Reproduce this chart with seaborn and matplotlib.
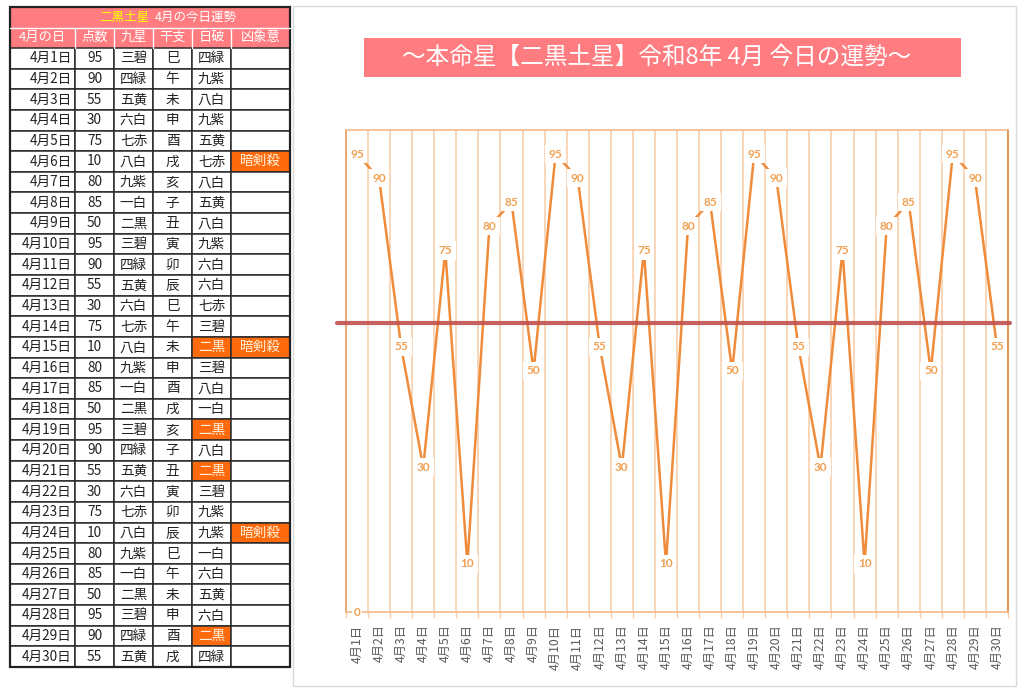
"""Monthly fortune chart: table of daily scores plus line chart."""
import numpy as np
import pandas as pd
import matplotlib.pyplot as plt
from matplotlib.patches import Rectangle
import seaborn as sns

# ---- data -----------------------------------------------------------------
days = [f"4月{d}日" for d in range(1, 31)]
scores = [95, 90, 55, 30, 75, 10, 80, 85, 50,
          95, 90, 55, 30, 75, 10, 80, 85, 50,
          95, 90, 55, 30, 75, 10, 80, 85, 50,
          95, 90, 55]
kyusei = ["三碧", "四緑", "五黄", "六白", "七赤", "八白", "九紫", "一白", "二黒",
          "三碧", "四緑", "五黄", "六白", "七赤", "八白", "九紫", "一白", "二黒",
          "三碧", "四緑", "五黄", "六白", "七赤", "八白", "九紫", "一白", "二黒",
          "三碧", "四緑", "五黄"]
eto = ["巳", "午", "未", "申", "酉", "戌", "亥", "子", "丑", "寅",
       "卯", "辰", "巳", "午", "未", "申", "酉", "戌", "亥", "子",
       "丑", "寅", "卯", "辰", "巳", "午", "未", "申", "酉", "戌"]
nippa = ["四緑", "九紫", "八白", "九紫", "五黄", "七赤", "八白", "五黄", "八白", "九紫",
         "六白", "六白", "七赤", "三碧", "二黒", "三碧", "八白", "一白", "二黒", "八白",
         "二黒", "三碧", "九紫", "九紫", "一白", "六白", "五黄", "六白", "二黒", "四緑"]
kyosho = ["", "", "", "", "", "暗剣殺", "", "", "", "",
          "", "", "", "", "暗剣殺", "", "", "", "", "",
          "", "", "", "暗剣殺", "", "", "", "", "", ""]
headers = ["4月の日", "点数", "九星", "干支", "日破", "凶象意"]
honmei = "二黒"
table_title_star = "二黒土星"
table_title_rest = "4月の今日運勢"
chart_title = "～本命星【二黒土星】令和8年 4月 今日の運勢～"
threshold = 60

# ---- style ----------------------------------------------------------------
sns.set_style("white")
plt.rcParams["font.family"] = ["Noto Sans CJK JP", "DejaVu Sans"]

PINK = "#FF7C80"
HILITE = "#FF6A0D"
LINE = "#EF8C3B"
LABEL = "#F0A052"
GRID = "#F8CFAE"
RED = "#C0504D"

fig = plt.figure(figsize=(10.24, 6.94), dpi=100)

# background layer in pixel coordinates (table, chart frame, title box)
bg = fig.add_axes([0, 0, 1, 1])
bg.set_xlim(0, 1024)
bg.set_ylim(694, 0)
bg.axis("off")

# ---- table ----------------------------------------------------------------
col_edges = [10, 75, 114, 153, 192, 231, 290]
t_top, h1_bot, h2_bot, t_bot = 7, 27.5, 48, 667
row_h = (t_bot - h2_bot) / len(days)

bg.add_patch(Rectangle((col_edges[0], t_top), col_edges[-1] - col_edges[0],
                       h2_bot - t_top, fc=PINK, ec="none"))
bg.plot([col_edges[0], col_edges[-1]], [h1_bot, h1_bot], color="white", lw=1)
for x in col_edges[1:-1]:
    bg.plot([x, x], [h1_bot, h2_bot], color="white", lw=1)
mid = (col_edges[0] + col_edges[-1]) / 2 + 2
bg.text(mid - 3, (t_top + h1_bot) / 2, table_title_star, color="#FFFF00",
        ha="right", va="center", fontsize=9)
bg.text(mid + 3, (t_top + h1_bot) / 2, table_title_rest, color="white",
        ha="left", va="center", fontsize=9)
for i, h in enumerate(headers):
    bg.text((col_edges[i] + col_edges[i + 1]) / 2, (h1_bot + h2_bot) / 2, h,
            color="white", ha="center", va="center", fontsize=9.5)

columns = [days, [str(s) for s in scores], kyusei, eto, nippa, kyosho]
for r in range(len(days)):
    y0 = h2_bot + r * row_h
    for c, col in enumerate(columns):
        val = col[r]
        hot = (c == 4 and val == honmei) or (c == 5 and val != "")
        bg.add_patch(Rectangle((col_edges[c], y0), col_edges[c + 1] - col_edges[c],
                               row_h, fc=HILITE if hot else "white",
                               ec="#2b2b2b", lw=1.1))
        if c == 0:
            bg.text(col_edges[1] - 3, y0 + row_h / 2, val, ha="right",
                    va="center", fontsize=9.8, color="#222222")
        else:
            bg.text((col_edges[c] + col_edges[c + 1]) / 2, y0 + row_h / 2, val,
                    ha="center", va="center", fontsize=9.8,
                    color="#FFF2DD" if hot else "#222222")
bg.add_patch(Rectangle((col_edges[0], t_top), col_edges[-1] - col_edges[0],
                       t_bot - t_top, fc="none", ec="#222222", lw=1.6))

# ---- chart frame and title ------------------------------------------------
bg.add_patch(Rectangle((293, 6), 723, 680, fc="white", ec="#D9D9D9", lw=1))
bg.add_patch(Rectangle((364, 38), 597, 38.5, fc=PINK, ec="none"))
bg.text(657, 57.5, chart_title, color="white", ha="center", va="center",
        fontsize=17)

# ---- line chart -----------------------------------------------------------
df = pd.DataFrame({"pos": np.arange(len(days)), "day": days, "score": scores})

ax = fig.add_axes([346 / 1024, 1 - 612 / 694, 662 / 1024, 482 / 694])
ax.set_facecolor("white")
sns.lineplot(data=df, x="pos", y="score", ax=ax, color=LINE, lw=1.8, zorder=3)

for p, s in zip(df["pos"], df["score"]):
    ax.text(p, s, str(s), ha="center", va="center", color=LABEL, fontsize=8.5,
            family="Lato", fontweight="bold", zorder=5,
            bbox=dict(boxstyle="square,pad=0.3", fc="white", ec="none"))
ax.text(df["pos"].iloc[0], 0, "0", ha="center", va="center", color=LABEL,
        fontsize=8.5, family="Lato", fontweight="bold", zorder=5, clip_on=False,
        bbox=dict(boxstyle="square,pad=0.15", fc="white", ec="none"))

ax.axhline(threshold, xmin=-0.013, xmax=1.003, color=RED, lw=3, alpha=0.9,
           zorder=4, clip_on=False)

ax.set_xlim(-0.5, len(days) - 0.5)
ax.set_ylim(0, 100)
ax.set_yticks([])
ax.set_xticks(df["pos"])
ax.set_xticklabels(df["day"])
ax.set_xticks(np.arange(-0.5, len(days)), minor=True)
ax.grid(which="minor", axis="x", color=GRID, lw=1.2)
ax.grid(which="major", visible=False)
ax.tick_params(axis="x", which="major", length=0, pad=9, labelrotation=90,
               labelcolor="#595959", labelsize=8.8)
ax.tick_params(axis="x", which="minor", length=4, width=1, color=GRID,
               bottom=True)
ax.set_xlabel("")
ax.set_ylabel("")
for side in ["top", "bottom"]:
    ax.spines[side].set_color("#F4B98A")
    ax.spines[side].set_linewidth(1.2)
ax.spines["left"].set_color("#E8A266")
ax.spines["right"].set_color("#E38C45")
for side in ["left", "right"]:
    ax.spines[side].set_linewidth(1.3)

fig.savefig("out.png", dpi=100)
